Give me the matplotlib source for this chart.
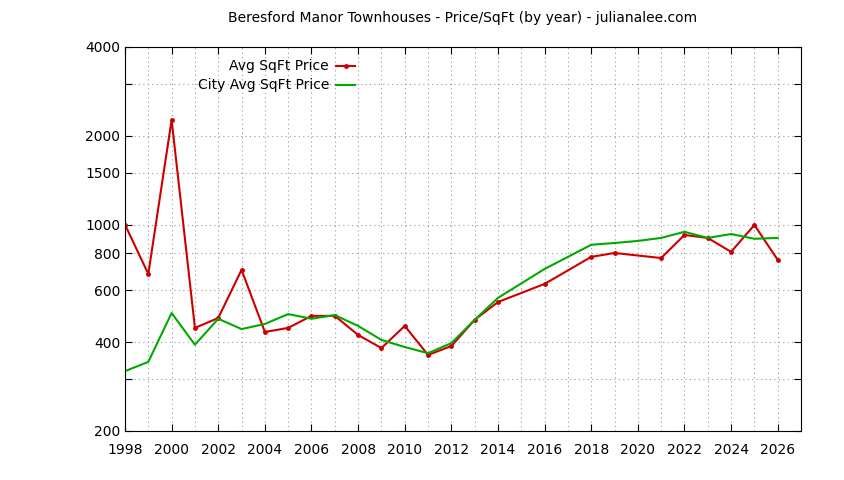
import matplotlib
matplotlib.use("Agg")
import matplotlib.pyplot as plt
from matplotlib.lines import Line2D

years_red = [1998,1999,2000,2001,2002,2003,2004,2005,2006,2007,2008,2009,2010,2011,2012,2013,2014,2016,2018,2019,2021,2022,2023,2024,2025,2026]
avg_price = [1000,681,2265,447,483,703,433,447,491,491,423,382,454,362,388,476,547,630,778,802,771,923,902,809,998,760]
years_green = [1998,1999,2000,2001,2002,2003,2004,2005,2006,2007,2008,2009,2010,2011,2012,2013,2014,2016,2018,2019,2020,2021,2022,2023,2024,2025,2026]
city_price = [319,343,502,392,480,443,461,498,480,494,454,407,385,367,397,476,565,708,855,867,881,902,946,902,930,896,902]
yticks = [200,300,400,600,800,1000,1500,2000,3000,4000]
ylabels = ["200","","400","600","800","1000","1500","2000","","4000"]

plt.rcParams['font.family'] = ['DejaVu Sans']
fig = plt.figure(figsize=(8.44,4.8), dpi=100)
ax = fig.add_axes([125/844, 1-431/480, (801-125)/844, (431-47)/480])
ax.plot(years_red, avg_price, color='#cc0000', lw=1.5, marker='o', ms=2.5)
ax.plot(years_green, city_price, color='#00aa00', lw=1.5)
ax.set_yscale('log')
ax.set_ylim(200,4000)
ax.set_xlim(1998,2027)
ax.set_yticks(yticks)
ax.set_yticklabels(ylabels)
ax.minorticks_off()
ax.set_xticks(range(1998,2027,2))
ax.set_xticks(range(1998,2028), minor=True)
ax.grid(True, which='both', color='#999999', ls=(0,(1,3)), lw=0.8)
ax.tick_params(labelsize=10, direction='in', length=5, right=True, top=True)
ax.tick_params(axis='x', pad=9)
ax.tick_params(which='minor', length=0)
ax.set_title("Beresford Manor Townhouses - Price/SqFt (by year) - julianalee.com", fontsize=10, pad=18)
for i,(lab,c,mk) in enumerate([("Avg SqFt Price",'#cc0000','o'),("City Avg SqFt Price",'#00aa00',None)]):
    yy = 1-(66+19*i)/480
    fig.text(329/844, yy, lab, ha='right', va='center', fontsize=10)
    fig.add_artist(Line2D([336/844,355/844],[yy,yy], color=c, lw=1.5))
    if mk:
        fig.add_artist(Line2D([345.5/844],[yy], color=c, marker='o', ms=2.5))
fig.savefig("out.png", dpi=100)
